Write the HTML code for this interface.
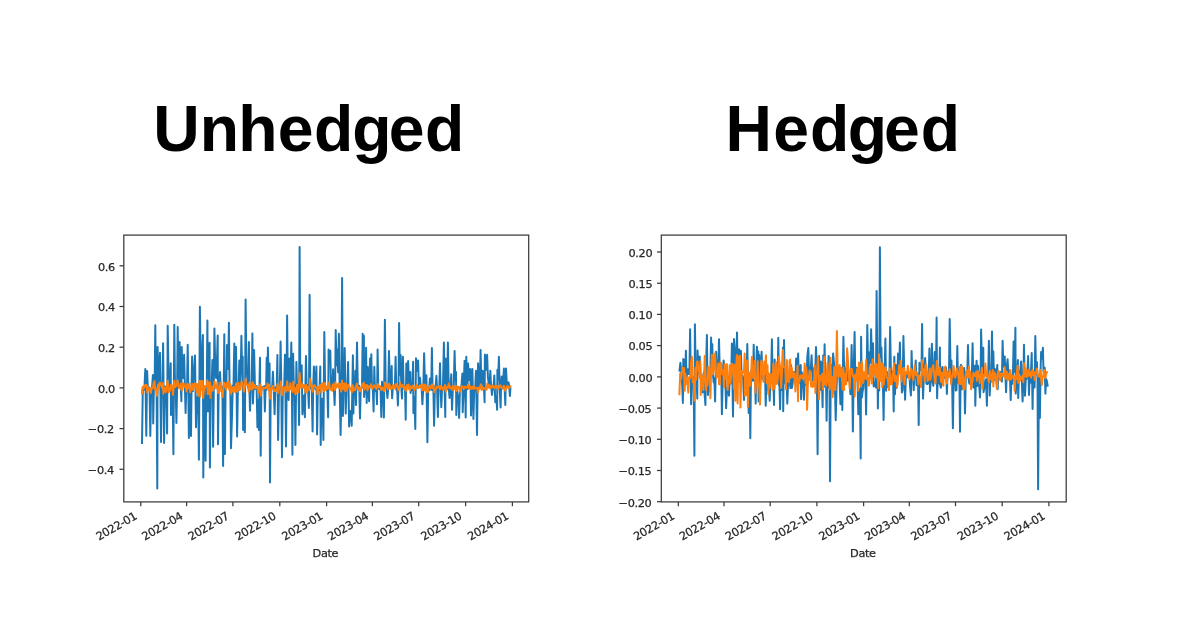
<!DOCTYPE html>
<html lang="en"><head><meta charset="utf-8"><title>Unhedged vs Hedged</title>
<style>
html,body{margin:0;padding:0;background:#fff;}
body{width:1200px;height:630px;overflow:hidden;position:relative;font-family:"Liberation Sans",sans-serif;}
svg{position:absolute;left:0;top:0;display:block;}
.t{font-family:"DejaVu Sans","Liberation Sans",sans-serif;font-size:11.3px;fill:#262626;letter-spacing:-0.35px;stroke:#262626;stroke-width:0.25px;}
</style></head><body>
<svg width="1200" height="630" viewBox="0 0 1200 630">
<defs><filter id="soft" x="-5%" y="-5%" width="110%" height="110%"><feGaussianBlur stdDeviation="0.65"/></filter></defs>
<g id="titles" font-family="Liberation Sans, sans-serif" font-weight="700" font-size="64.3" fill="#000">
<text y="150.6" x="153.16 199.64 238.36 277.76 313.91 352.25 388.76 424.91">Unhedged</text>
<text y="150.6" x="725.45 773.31 810.06 847.8 883.96 920.71">Hedged</text>
</g>
<g id="left" filter="url(#soft)">
<polyline points="142.0,442.9 142.8,388.0 143.6,389.8 144.5,386.5 145.3,369.0 146.3,435.7 147.1,371.0 147.9,389.4 148.7,387.5 149.5,387.5 150.3,436.0 151.1,390.7 152.0,388.1 152.9,375.0 153.2,423.6 153.9,387.8 154.6,389.0 155.3,325.3 156.0,389.6 156.6,387.9 157.3,488.4 157.6,347.1 158.4,385.8 159.2,370.6 160.0,352.8 161.0,441.9 161.7,388.2 162.4,389.1 163.1,343.3 164.1,442.9 164.9,386.6 165.6,392.2 166.4,386.8 167.1,433.6 167.7,325.7 168.5,371.7 169.2,374.3 170.0,387.2 170.7,363.3 171.0,415.0 171.8,389.2 172.6,387.2 173.4,454.3 174.3,324.7 175.0,384.6 175.7,389.1 176.4,422.9 177.1,388.4 177.7,327.1 178.3,378.7 179.0,387.4 179.6,342.1 180.2,386.0 180.8,388.7 181.4,401.2 181.7,347.1 182.5,374.5 183.3,378.1 184.1,354.7 184.9,386.2 185.6,412.9 186.3,386.9 187.0,389.8 187.7,344.7 188.3,386.6 188.9,437.9 189.6,390.8 190.3,395.8 191.0,436.0 191.6,384.3 192.1,356.4 192.9,391.1 193.6,370.6 194.3,368.0 195.0,355.4 196.0,427.2 196.7,397.7 197.4,413.3 198.1,387.2 198.9,459.7 199.9,306.7 200.6,355.6 201.4,379.7 202.1,356.8 202.9,335.0 203.3,477.4 204.0,389.9 204.8,428.2 205.6,460.7 206.2,388.5 206.8,386.4 207.4,320.4 207.9,411.4 208.7,390.6 209.6,342.8 209.9,467.4 210.7,389.7 211.6,387.7 212.4,360.0 213.1,446.7 213.8,389.2 214.4,328.6 215.2,363.2 216.1,378.0 216.9,362.8 217.7,335.4 218.0,444.3 218.7,387.9 219.3,388.1 220.0,372.1 220.8,388.3 221.6,388.8 222.4,386.9 223.1,466.0 223.7,391.0 224.3,334.3 224.9,453.9 225.6,387.1 226.3,386.7 227.0,345.0 227.6,366.4 228.2,369.0 228.9,322.8 229.6,389.1 230.3,385.3 231.0,448.3 232.0,415.0 232.8,385.5 233.5,386.3 234.3,343.6 235.1,387.8 236.0,346.7 236.6,388.0 237.1,436.4 237.9,389.2 238.6,389.7 239.3,360.4 240.0,386.3 240.7,375.4 241.4,335.7 242.1,372.8 242.7,356.4 243.1,430.0 244.0,391.8 244.9,432.2 245.6,299.4 246.4,370.7 247.2,374.3 248.0,387.6 248.9,342.1 249.4,387.9 250.0,410.7 250.8,387.6 251.6,390.0 252.4,333.6 252.9,403.6 253.5,388.7 254.1,350.0 255.0,389.0 255.8,387.6 256.6,386.0 257.4,427.2 258.1,399.9 258.9,430.0 259.4,388.4 260.0,357.8 260.7,455.7 261.4,387.3 262.1,389.2 262.8,386.9 263.5,387.2 264.2,386.1 264.9,411.4 265.5,389.7 266.1,389.8 266.7,357.8 267.3,388.2 267.9,347.6 268.7,382.9 269.6,363.6 270.0,482.6 270.7,388.3 271.4,386.9 272.1,388.5 272.9,371.7 273.7,389.4 274.6,414.3 275.3,387.7 276.0,387.2 276.7,387.3 277.4,355.0 278.1,440.0 279.0,389.1 279.8,388.7 280.6,341.4 281.3,386.5 282.0,457.2 282.8,388.5 283.5,387.2 284.2,386.8 285.0,354.7 286.0,446.4 286.6,389.8 287.1,315.4 287.9,389.1 288.6,400.0 289.3,358.6 290.0,383.9 290.6,382.5 291.3,342.4 291.9,386.8 292.4,454.7 293.1,353.8 293.9,388.9 294.7,385.2 295.4,445.0 296.4,362.1 297.1,388.4 297.8,389.0 298.5,388.7 299.1,425.0 299.6,247.0 300.3,385.9 301.0,384.7 301.7,365.3 302.4,414.3 303.2,403.9 304.0,395.6 304.9,417.2 305.4,386.5 306.0,356.1 306.7,388.7 307.4,385.1 308.1,389.7 308.9,407.9 309.6,294.8 310.3,388.0 311.1,388.0 311.8,390.8 312.6,431.4 313.2,386.8 313.9,366.4 314.7,384.5 315.6,389.4 316.4,366.4 317.1,434.6 317.9,388.3 318.7,390.3 319.5,389.0 320.3,366.4 320.7,445.0 321.4,401.0 322.1,398.8 322.8,412.0 323.4,440.0 324.3,332.1 325.1,386.0 325.8,387.3 326.6,390.6 327.4,391.0 328.1,417.2 328.6,349.6 329.4,362.0 330.3,350.7 331.0,388.8 331.7,387.7 332.4,387.8 333.1,369.3 333.9,388.5 334.6,405.0 335.1,389.0 335.7,330.0 336.5,365.3 337.3,349.7 338.1,372.3 338.9,333.8 339.7,387.9 340.6,435.0 341.4,390.9 342.1,278.0 342.9,416.0 343.5,385.3 344.1,388.3 344.7,348.1 345.7,413.6 346.5,387.3 347.3,388.7 348.1,362.1 349.1,426.4 350.0,411.4 350.9,410.8 351.7,425.7 352.3,390.3 352.9,355.3 353.4,413.6 354.0,386.6 354.7,388.0 355.3,370.7 356.0,405.0 357.0,342.6 357.8,387.7 358.5,385.8 359.2,385.7 360.0,418.6 360.7,389.0 361.4,388.3 362.0,387.7 362.7,333.8 363.3,368.0 363.9,335.7 364.1,396.9 364.8,389.7 365.5,387.9 366.1,347.8 366.7,402.9 367.7,367.1 368.4,387.8 369.1,401.2 370.0,358.6 370.6,383.8 371.3,354.3 372.0,388.3 372.8,388.3 373.6,411.4 374.3,366.7 375.0,390.8 375.6,387.4 376.3,389.4 377.0,404.3 377.6,349.6 378.3,388.8 379.1,387.4 379.8,389.1 380.5,386.6 381.3,416.9 382.0,381.8 382.6,389.6 383.2,386.7 383.9,417.4 384.9,319.7 385.7,387.2 386.6,388.4 387.4,397.9 388.2,389.1 389.0,351.0 389.7,378.3 390.4,387.5 391.0,381.1 391.7,366.1 392.1,398.3 392.8,388.3 393.5,385.8 394.2,386.3 394.9,385.9 395.6,356.8 396.3,389.7 397.1,386.8 397.9,405.4 398.5,386.8 399.1,323.1 399.9,374.8 400.6,355.0 401.3,387.4 402.0,398.6 402.9,356.7 403.6,386.4 404.3,387.3 405.0,386.3 405.7,419.7 406.3,363.6 406.9,377.6 407.5,385.5 408.1,361.1 408.9,382.4 409.6,389.2 410.3,372.1 410.6,392.9 411.4,387.3 412.3,390.0 413.1,361.8 413.4,412.9 414.4,397.3 415.3,429.0 416.0,358.3 416.7,370.9 417.4,369.5 418.1,360.4 418.8,386.3 419.4,382.2 420.0,377.8 420.8,387.3 421.6,387.6 422.4,404.3 423.3,387.8 424.1,353.3 424.9,380.4 425.7,386.5 426.4,375.3 427.4,442.2 428.2,387.8 429.0,390.4 429.9,378.6 430.5,387.3 431.2,389.7 431.9,348.1 432.6,390.0 433.4,389.9 434.1,425.7 434.9,386.6 435.7,385.4 436.4,375.7 437.1,389.8 437.9,416.9 438.6,387.3 439.3,388.0 440.0,363.3 440.6,387.5 441.3,407.2 442.1,388.1 443.0,386.1 443.9,342.4 444.6,387.7 445.3,416.9 445.6,358.6 446.3,387.2 447.1,389.1 447.9,342.6 448.7,388.4 449.6,397.9 450.4,385.3 451.3,374.3 452.0,409.7 452.9,386.8 453.7,387.9 454.6,351.0 455.3,380.3 456.0,372.1 456.3,415.0 457.0,388.8 457.7,396.2 458.4,395.9 459.1,417.9 460.0,387.4 460.8,388.2 461.6,383.9 462.4,373.6 462.7,412.2 463.6,387.9 464.6,360.7 465.1,385.8 465.7,417.4 466.3,356.8 466.9,374.9 467.5,389.2 468.1,363.6 468.9,380.1 469.6,378.4 470.3,369.0 471.0,415.4 471.7,388.6 472.4,369.0 473.4,418.9 474.3,387.4 475.1,390.0 476.0,370.7 477.0,435.0 477.6,389.3 478.1,363.3 479.0,386.3 479.8,387.7 480.6,350.0 481.3,383.8 482.0,380.0 482.7,370.7 483.3,387.5 484.0,388.9 484.6,402.2 484.9,354.6 485.6,364.1 486.4,369.8 487.1,354.7 487.9,376.8 488.7,383.8 489.5,386.8 490.3,370.7 491.1,386.4 492.0,395.0 492.8,388.1 493.5,388.6 494.3,375.4 495.3,402.2 495.9,396.3 496.5,398.5 497.1,409.7 497.4,370.0 498.1,379.5 498.9,356.8 499.7,389.2 500.6,407.4 501.1,385.1 501.7,376.4 502.4,388.5 503.1,383.5 503.9,368.6 504.6,387.4 505.3,405.0 506.0,368.6 506.9,384.8 507.7,385.0 508.6,382.4 509.2,386.8 509.9,396.0 510.4,388.1" fill="none" stroke="#1f77b4" stroke-width="2.00" stroke-linejoin="round" stroke-linecap="square"/>
<polyline points="141.9,393.6 142.7,386.8 143.5,388.7 144.3,386.8 145.1,385.0 145.8,386.5 146.5,385.0 147.2,392.4 147.9,386.9 148.7,390.3 149.4,388.5 150.1,390.1 150.8,393.0 151.5,388.1 152.2,388.4 153.0,387.9 153.7,383.1 154.4,381.3 155.2,389.6 156.1,388.7 157.0,395.7 158.0,385.0 158.7,388.8 159.4,383.0 160.1,382.8 160.8,385.1 161.5,386.1 162.3,388.2 163.0,382.9 163.3,393.8 164.1,387.3 165.0,388.3 165.8,392.2 166.6,388.5 167.3,381.1 168.0,385.5 168.7,392.3 169.4,388.9 170.1,390.6 170.9,384.7 171.6,385.8 172.3,385.5 173.0,394.9 173.7,386.5 174.4,380.7 175.2,387.1 176.0,386.3 176.8,385.1 177.6,380.3 178.4,385.5 179.2,388.0 180.1,387.5 180.9,383.6 181.6,390.3 182.3,390.4 183.0,383.2 183.7,383.8 184.5,386.7 185.2,387.2 185.9,385.6 186.6,391.3 187.3,383.8 188.0,388.6 188.8,387.3 189.5,383.7 190.2,392.2 190.9,389.5 191.6,389.2 192.3,384.0 193.1,390.0 193.8,387.8 194.5,383.6 195.2,383.8 195.9,385.6 196.6,391.8 197.3,384.0 198.1,395.7 198.8,385.0 199.5,380.8 200.2,396.6 201.0,381.3 201.8,389.2 202.6,381.0 203.1,397.9 203.8,391.1 204.5,386.0 205.2,386.8 205.9,386.3 206.7,385.9 207.4,380.3 207.7,394.1 208.5,382.5 209.4,393.9 210.2,382.6 210.5,397.7 211.3,387.1 212.1,386.6 212.9,390.7 213.7,387.0 214.5,381.3 215.3,386.8 216.0,388.3 216.7,388.2 217.4,382.6 218.1,393.1 218.9,389.1 219.6,389.2 220.4,382.8 221.2,391.2 221.9,390.2 222.7,396.9 223.3,388.8 223.9,382.6 224.6,383.1 225.4,385.8 226.2,389.6 227.0,382.9 227.8,387.0 228.6,380.9 229.4,390.0 230.2,384.1 231.0,393.6 231.7,386.8 232.4,391.4 233.2,388.8 233.9,387.0 234.6,388.3 235.3,392.2 236.0,383.6 236.6,389.0 237.2,391.7 237.9,387.7 238.6,383.1 239.3,390.2 240.0,389.8 240.7,387.5 241.5,381.5 242.3,383.3 243.1,385.2 243.9,391.5 244.8,386.4 245.6,379.1 246.4,384.7 247.2,384.7 248.0,385.0 248.8,392.0 249.6,382.4 250.3,389.3 251.1,388.4 251.8,389.6 252.3,382.7 252.9,382.3 253.7,388.2 254.4,384.9 255.2,386.4 255.9,388.1 256.7,386.8 257.5,386.7 258.2,392.7 258.9,389.1 259.6,388.2 260.4,384.3 260.8,395.8 261.5,388.6 262.3,389.3 263.0,387.5 263.8,387.4 264.5,388.1 265.3,388.4 266.0,387.0 266.8,387.8 267.5,383.6 268.3,389.9 269.1,384.9 270.0,398.6 270.8,388.6 271.6,389.1 272.4,385.9 273.2,386.4 274.0,391.0 274.7,389.5 275.4,391.2 276.1,390.9 276.8,390.3 277.5,384.0 278.3,393.1 279.1,387.3 280.0,386.3 280.8,381.5 281.8,395.2 282.6,387.5 283.4,389.1 284.2,388.7 285.0,387.0 285.7,391.9 286.5,387.7 287.3,381.3 287.6,390.3 288.3,387.9 289.0,390.8 289.7,386.3 290.4,383.3 291.2,389.6 291.9,390.2 292.6,392.0 293.3,381.7 294.0,390.7 294.7,387.9 295.4,394.5 296.3,392.1 297.2,384.7 297.7,386.7 298.3,392.2 299.0,386.7 299.7,373.0 300.5,385.4 301.2,387.9 301.9,385.2 302.6,384.1 303.3,387.8 304.0,385.1 304.8,388.2 305.5,392.1 306.2,385.0 306.9,392.2 307.6,386.9 308.3,389.1 309.1,390.3 310.1,378.6 310.9,382.9 311.8,387.3 312.6,391.7 313.3,385.9 314.1,385.4 314.8,385.3 315.5,387.2 316.2,387.9 316.9,387.5 317.6,394.3 318.4,387.1 319.2,389.1 320.0,385.4 320.8,385.0 321.2,392.4 321.9,383.3 322.7,383.7 323.4,388.9 324.1,391.1 324.8,383.0 325.5,387.0 326.2,389.9 327.0,386.4 327.7,388.5 328.4,387.6 329.1,382.4 329.8,388.7 330.5,388.3 331.2,390.3 332.0,390.7 332.7,385.0 333.4,384.3 334.1,387.8 334.8,390.1 335.5,382.2 336.3,387.7 337.0,386.6 337.7,385.0 338.4,383.6 339.1,388.1 339.8,383.9 340.6,386.1 341.3,391.5 342.0,380.5 342.7,387.6 343.4,389.2 344.1,383.6 344.9,383.6 345.2,391.3 346.0,383.6 346.8,390.4 347.6,387.2 348.4,384.7 349.1,386.1 349.9,388.3 350.6,388.3 351.3,390.6 352.0,392.2 352.7,385.2 353.4,389.9 354.2,390.3 354.9,390.3 355.6,387.1 356.3,386.0 357.0,383.6 357.7,389.3 358.5,387.6 359.2,387.6 359.9,391.3 360.7,390.0 361.4,386.9 362.2,384.1 363.0,386.8 363.8,382.6 364.6,389.5 365.4,385.2 366.2,387.1 367.0,385.0 367.4,390.3 368.1,388.6 368.8,386.3 369.5,386.8 370.2,386.7 370.9,384.3 371.7,387.8 372.5,388.7 373.3,386.6 374.1,385.3 374.9,385.9 375.6,388.0 376.4,389.0 377.1,386.5 377.8,384.0 378.5,387.1 379.2,387.4 379.9,386.4 380.7,387.8 381.4,390.3 382.1,387.5 382.8,388.3 383.5,389.0 384.2,391.3 385.0,382.4 385.7,387.1 386.4,385.3 387.1,386.5 387.8,389.3 388.5,384.4 389.2,383.8 390.0,386.3 390.7,389.2 391.4,388.8 392.1,387.4 392.8,385.2 393.5,388.8 394.3,387.7 395.0,385.4 395.7,384.7 396.4,384.0 397.1,386.4 397.8,388.9 398.6,390.1 399.3,386.5 400.0,382.6 400.7,385.5 401.4,387.3 402.1,385.8 402.9,385.0 403.6,387.1 404.3,389.6 405.0,386.6 405.7,390.0 406.4,390.8 407.1,384.9 407.9,387.3 408.6,384.5 409.3,389.3 410.0,390.0 410.7,386.4 411.4,387.9 412.2,387.9 412.9,385.4 413.6,386.9 414.3,390.3 415.2,387.6 416.0,387.4 416.9,384.4 417.7,388.0 418.5,388.1 419.2,386.9 420.0,385.2 420.8,387.0 421.5,386.7 422.2,390.2 422.9,384.6 423.6,388.2 424.3,390.3 425.0,384.4 425.3,384.7 425.9,386.0 426.5,391.7 427.2,388.5 427.9,392.0 428.6,387.9 429.3,386.7 430.1,385.8 430.8,388.2 431.5,386.9 432.2,384.5 432.9,388.3 433.6,386.4 434.4,392.0 435.1,389.7 435.8,389.4 436.5,386.6 437.2,387.7 437.9,387.1 438.7,387.5 439.4,386.3 440.1,389.2 440.8,385.9 441.5,386.9 442.2,387.4 442.9,390.0 443.7,387.2 444.4,388.0 445.1,385.0 445.8,391.7 446.5,387.3 447.2,387.4 448.0,387.8 448.7,383.6 449.4,387.6 450.1,386.3 450.8,388.5 451.5,388.5 452.3,389.7 453.0,385.9 453.7,387.4 454.4,388.3 455.1,389.2 455.8,385.7 456.6,391.0 457.3,386.4 458.0,387.2 458.7,386.8 459.4,389.5 460.1,391.7 460.9,388.2 461.6,385.9 462.3,387.0 463.0,387.6 463.7,389.1 464.4,386.7 465.1,387.6 465.9,386.9 466.6,387.7 467.3,387.0 468.0,384.7 468.7,388.5 469.4,386.1 470.2,386.4 470.9,389.1 471.6,388.5 472.3,386.9 473.0,388.6 473.7,385.7 474.5,388.8 475.2,387.5 475.9,388.2 476.6,387.7 477.3,387.9 478.0,392.4 478.8,387.8 479.5,388.7 480.2,386.5 480.9,384.3 481.6,389.9 482.3,387.0 483.0,389.2 483.8,388.0 484.5,388.7 485.2,388.4 485.9,387.5 486.6,389.6 487.3,383.5 488.1,387.6 488.8,385.0 489.5,387.9 490.2,385.9 490.9,387.9 491.6,386.4 492.4,385.5 493.1,387.5 493.8,386.4 494.5,388.2 495.2,386.3 495.9,385.6 496.7,387.3 497.4,386.3 498.1,388.9 498.8,387.1 499.5,386.3 500.2,385.2 500.9,386.8 501.7,387.8 502.4,387.8 503.1,387.6 503.8,385.7 504.5,388.6 505.2,390.6 506.0,388.0 506.7,387.4 507.4,385.7 508.1,387.9 508.8,388.4 509.5,386.8 510.4,386.4" fill="none" stroke="#ff7f0e" stroke-width="2.00" stroke-linejoin="round" stroke-linecap="square"/>
<rect x="123.8" y="235.1" width="404.9" height="266.8" fill="none" stroke="#3a3a3a" stroke-width="1.25"/>
<line x1="119.5" y1="265.8" x2="123.8" y2="265.8" stroke="#3a3a3a" stroke-width="1.25"/>
<text x="114.8" y="270.6" text-anchor="end" class="t">0.6</text>
<line x1="119.5" y1="306.5" x2="123.8" y2="306.5" stroke="#3a3a3a" stroke-width="1.25"/>
<text x="114.8" y="311.3" text-anchor="end" class="t">0.4</text>
<line x1="119.5" y1="347.2" x2="123.8" y2="347.2" stroke="#3a3a3a" stroke-width="1.25"/>
<text x="114.8" y="352.0" text-anchor="end" class="t">0.2</text>
<line x1="119.5" y1="387.9" x2="123.8" y2="387.9" stroke="#3a3a3a" stroke-width="1.25"/>
<text x="114.8" y="392.7" text-anchor="end" class="t">0.0</text>
<line x1="119.5" y1="428.6" x2="123.8" y2="428.6" stroke="#3a3a3a" stroke-width="1.25"/>
<text x="113.9" y="433.4" text-anchor="end" class="t">−0.2</text>
<line x1="119.5" y1="469.3" x2="123.8" y2="469.3" stroke="#3a3a3a" stroke-width="1.25"/>
<text x="113.9" y="474.1" text-anchor="end" class="t">−0.4</text>
<line x1="140.8" y1="501.9" x2="140.8" y2="506.2" stroke="#3a3a3a" stroke-width="1.25"/>
<text transform="translate(137.7,518.4) rotate(-30)" text-anchor="end" class="t">2022-01</text>
<line x1="186.6" y1="501.9" x2="186.6" y2="506.2" stroke="#3a3a3a" stroke-width="1.25"/>
<text transform="translate(183.5,518.4) rotate(-30)" text-anchor="end" class="t">2022-04</text>
<line x1="232.9" y1="501.9" x2="232.9" y2="506.2" stroke="#3a3a3a" stroke-width="1.25"/>
<text transform="translate(229.8,518.4) rotate(-30)" text-anchor="end" class="t">2022-07</text>
<line x1="279.8" y1="501.9" x2="279.8" y2="506.2" stroke="#3a3a3a" stroke-width="1.25"/>
<text transform="translate(276.7,518.4) rotate(-30)" text-anchor="end" class="t">2022-10</text>
<line x1="326.6" y1="501.9" x2="326.6" y2="506.2" stroke="#3a3a3a" stroke-width="1.25"/>
<text transform="translate(323.5,518.4) rotate(-30)" text-anchor="end" class="t">2023-01</text>
<line x1="372.4" y1="501.9" x2="372.4" y2="506.2" stroke="#3a3a3a" stroke-width="1.25"/>
<text transform="translate(369.3,518.4) rotate(-30)" text-anchor="end" class="t">2023-04</text>
<line x1="418.7" y1="501.9" x2="418.7" y2="506.2" stroke="#3a3a3a" stroke-width="1.25"/>
<text transform="translate(415.6,518.4) rotate(-30)" text-anchor="end" class="t">2023-07</text>
<line x1="465.6" y1="501.9" x2="465.6" y2="506.2" stroke="#3a3a3a" stroke-width="1.25"/>
<text transform="translate(462.5,518.4) rotate(-30)" text-anchor="end" class="t">2023-10</text>
<line x1="512.4" y1="501.9" x2="512.4" y2="506.2" stroke="#3a3a3a" stroke-width="1.25"/>
<text transform="translate(509.3,518.4) rotate(-30)" text-anchor="end" class="t">2024-01</text>
<text x="325.4" y="556.8" text-anchor="middle" class="t">Date</text>
</g>
<g id="right" filter="url(#soft)">
<polyline points="679.5,370.7 680.4,362.8 681.2,370.8 682.0,380.4 682.9,402.9 683.3,359.0 684.1,360.1 685.0,384.9 685.9,350.7 686.5,378.3 687.2,371.7 687.9,369.3 688.6,374.0 689.4,373.6 690.1,329.3 691.1,404.3 692.0,378.5 692.8,383.6 693.6,377.3 694.4,455.7 694.9,324.3 695.7,372.4 696.5,378.0 697.3,398.6 697.6,350.4 698.3,374.0 699.0,363.4 699.7,356.4 700.4,372.7 701.1,378.3 701.9,382.2 702.6,392.5 703.3,375.1 704.0,372.0 704.7,395.4 705.4,405.0 706.1,365.9 706.9,335.0 707.4,374.5 708.0,395.0 708.8,381.1 709.6,390.9 710.4,370.8 711.1,337.6 711.7,361.6 712.3,344.3 713.0,375.1 713.7,382.5 714.4,378.6 715.1,401.4 716.1,351.8 716.9,370.3 717.6,375.5 718.3,369.7 719.0,339.3 719.7,368.6 720.4,373.2 721.1,363.6 721.9,414.3 722.7,380.0 723.6,360.4 724.4,367.1 725.3,378.1 726.1,408.3 726.9,390.7 727.6,387.7 728.3,388.7 729.0,395.7 729.7,378.2 730.4,371.0 731.1,383.2 731.9,343.6 732.4,378.8 733.0,416.4 734.0,339.0 734.8,349.6 735.5,354.9 736.2,377.0 737.0,332.4 737.7,373.2 738.3,360.5 739.0,349.3 739.6,361.8 740.2,382.8 740.9,350.7 741.6,378.2 742.4,375.2 743.2,380.1 744.0,400.0 744.8,375.7 745.6,371.2 746.5,385.3 747.3,344.0 748.0,382.5 748.7,412.9 749.5,373.7 750.3,438.3 751.0,371.2 751.7,375.2 752.3,375.1 753.0,380.8 753.7,344.7 754.4,380.3 755.0,378.7 755.7,403.6 756.3,367.9 756.9,346.7 757.6,374.7 758.3,351.4 758.6,401.4 759.3,355.1 760.1,385.5 760.8,376.1 761.6,351.8 762.3,372.6 763.0,379.4 763.6,367.2 764.3,370.4 765.0,370.6 765.7,405.7 766.5,378.7 767.3,390.2 768.1,381.8 768.9,384.2 769.7,400.7 770.4,378.4 771.1,378.7 771.9,339.3 772.6,373.7 773.3,374.9 774.0,405.0 774.7,359.6 775.4,368.5 776.1,367.9 776.9,382.7 777.6,381.5 778.3,337.8 778.9,384.4 779.5,387.1 780.1,409.3 780.8,374.8 781.5,383.8 782.2,390.0 782.9,347.8 783.2,411.2 784.0,340.0 784.8,376.8 785.6,383.6 786.5,375.8 787.3,403.6 788.1,383.0 788.9,379.6 789.6,378.5 790.4,387.9 791.1,365.3 791.9,388.1 792.6,383.9 793.3,375.0 794.0,372.1 794.7,376.9 795.4,380.0 796.1,358.6 796.8,378.8 797.5,371.7 798.1,353.6 799.0,382.9 799.9,370.7 800.7,365.0 801.1,399.3 801.9,372.4 802.6,385.6 803.3,382.3 804.0,399.7 804.8,375.4 805.6,372.1 806.5,385.1 807.3,357.1 808.3,348.1 809.1,375.6 809.9,372.0 810.8,368.8 811.6,355.3 812.3,373.9 813.0,380.6 813.8,368.2 814.5,378.6 815.3,370.8 816.0,347.1 816.8,370.0 817.6,454.3 818.3,366.3 819.0,356.1 819.6,367.2 820.2,390.1 820.9,361.4 821.7,368.2 822.6,407.2 823.2,355.6 823.9,387.1 824.6,344.3 825.2,374.0 825.9,371.6 826.6,420.7 827.2,375.9 827.9,387.6 828.6,356.1 829.3,359.1 830.0,481.2 830.8,364.8 831.6,378.7 832.4,374.3 833.1,353.6 834.0,362.9 834.9,384.3 835.7,420.3 836.5,389.9 837.3,365.7 838.1,370.6 838.9,367.1 839.6,382.1 840.4,404.3 841.0,367.9 841.7,381.3 842.3,410.0 842.9,368.0 843.4,336.7 844.1,368.7 844.8,368.3 845.5,375.6 846.2,373.5 846.9,360.7 847.6,380.7 848.3,378.2 849.0,374.6 849.7,381.8 850.4,394.3 851.0,377.6 851.6,345.0 852.2,379.0 852.9,431.4 853.7,368.5 854.6,332.1 855.3,378.8 856.1,367.6 856.8,369.0 857.5,378.4 858.3,414.3 859.1,389.3 859.9,389.5 860.7,458.6 861.1,336.7 861.9,397.5 862.6,391.2 863.3,388.5 864.0,375.0 864.7,378.9 865.4,373.4 866.1,414.6 866.7,373.9 867.3,325.0 868.1,366.7 868.8,373.9 869.6,352.2 870.4,362.8 871.1,329.3 871.8,358.7 872.4,366.5 873.0,343.3 873.7,386.4 874.4,385.3 875.1,382.2 875.9,387.4 876.6,291.1 877.2,353.6 877.9,408.6 878.5,366.8 879.2,390.6 879.9,247.3 880.6,357.1 881.4,347.6 882.1,374.1 882.9,381.4 883.6,420.0 884.2,376.9 884.8,364.9 885.4,338.6 886.1,390.7 886.9,371.7 887.7,385.8 888.5,387.5 889.3,383.6 890.1,327.1 890.9,371.6 891.6,371.2 892.3,378.9 893.0,372.1 893.7,411.4 894.3,356.7 895.0,394.2 895.8,365.0 896.5,388.0 897.3,384.2 898.0,353.6 898.6,359.7 899.2,368.9 899.9,342.4 900.5,372.5 901.2,369.3 901.9,392.4 902.6,390.0 903.4,336.0 904.3,372.5 905.1,399.7 905.9,377.1 906.6,374.3 907.3,377.3 908.0,372.6 908.7,372.8 909.4,374.3 910.1,387.0 910.9,395.4 911.6,351.1 912.3,377.3 913.0,376.0 913.7,390.3 914.4,372.4 915.0,376.0 915.7,360.4 916.5,385.2 917.2,373.3 918.0,377.0 918.7,425.0 919.4,362.8 920.1,366.5 920.8,370.2 921.5,369.8 922.1,324.0 923.0,398.6 923.7,380.9 924.4,370.2 925.1,358.1 925.8,371.0 926.4,383.6 927.2,384.1 927.9,383.7 928.7,374.6 929.4,348.6 930.0,391.2 930.6,383.3 931.2,374.6 931.9,343.8 932.6,380.7 933.3,385.7 934.0,371.0 934.7,352.1 935.3,362.7 936.0,375.0 936.6,317.6 937.1,398.3 937.8,375.7 938.5,376.8 939.2,383.2 939.9,347.4 940.1,385.0 940.9,387.7 941.6,370.6 942.3,367.1 943.0,375.8 943.8,376.6 944.6,378.0 945.3,370.1 946.1,367.7 946.9,394.0 947.6,372.1 948.3,371.3 949.0,371.3 949.7,319.0 950.6,372.1 951.4,360.4 952.1,381.0 952.9,428.3 953.6,379.6 954.3,372.8 955.1,372.7 955.8,390.6 956.5,390.0 957.3,346.1 958.0,382.6 958.6,374.1 959.3,368.8 960.0,431.7 960.6,373.7 961.1,364.7 961.9,389.3 962.7,380.3 963.5,374.7 964.2,367.9 965.0,413.6 965.8,378.0 966.5,371.3 967.2,376.9 968.0,345.0 968.8,381.4 969.5,383.8 970.3,377.8 971.0,374.6 971.8,378.3 972.6,343.3 973.4,387.6 974.2,376.1 975.0,365.7 975.3,405.7 976.0,374.1 976.6,360.8 977.3,386.0 978.0,365.7 978.7,376.8 979.3,387.3 980.0,397.4 980.6,380.3 981.1,329.6 981.9,362.3 982.6,376.1 983.3,347.8 983.6,392.2 984.4,387.5 985.2,384.2 986.0,379.3 986.9,405.7 987.5,374.0 988.2,375.7 988.9,340.7 989.7,395.4 990.5,375.6 991.2,381.4 992.0,331.4 992.6,374.6 993.3,351.4 994.1,380.3 994.9,368.9 995.7,372.8 996.5,378.9 997.3,365.0 997.6,389.3 998.3,374.9 999.0,372.7 999.7,378.7 1000.4,371.9 1001.1,373.4 1001.9,381.6 1002.6,340.7 1003.3,365.9 1004.0,366.8 1004.7,356.4 1005.4,374.9 1006.1,392.2 1006.9,365.7 1007.6,359.3 1008.4,376.4 1009.1,370.4 1009.9,374.3 1010.7,400.0 1011.4,376.3 1012.1,383.8 1012.9,376.6 1013.6,341.4 1014.2,371.8 1014.8,365.9 1015.4,327.8 1015.7,393.6 1016.4,385.4 1017.1,376.6 1017.9,360.0 1018.2,397.9 1018.9,373.6 1019.6,375.1 1020.4,369.3 1021.1,361.4 1021.9,383.8 1022.6,401.4 1023.3,381.2 1024.0,344.7 1025.0,395.7 1025.8,379.2 1026.6,378.7 1027.4,372.7 1028.1,356.1 1029.0,395.0 1029.7,374.1 1030.4,382.7 1031.0,371.2 1031.7,353.1 1032.6,409.0 1033.2,371.3 1033.9,387.6 1034.6,387.6 1035.3,336.1 1036.1,374.6 1036.9,362.1 1037.5,378.8 1038.1,489.2 1039.0,374.9 1039.9,417.9 1040.5,372.5 1041.1,352.1 1042.0,358.8 1042.9,347.8 1043.5,371.2 1044.1,372.5 1044.7,367.8 1045.4,393.6 1046.1,378.8 1046.9,381.1 1047.6,385.7" fill="none" stroke="#1f77b4" stroke-width="2.00" stroke-linejoin="round" stroke-linecap="square"/>
<polyline points="679.4,394.3 680.2,373.4 681.0,379.3 681.8,373.6 682.6,367.8 683.3,372.6 684.0,368.0 684.7,390.7 685.4,373.7 686.1,384.1 686.9,378.7 687.6,383.5 688.3,392.6 689.0,377.3 689.7,378.5 690.4,376.8 691.1,362.0 691.9,356.7 692.7,382.2 693.6,379.4 694.4,400.7 695.4,367.8 696.1,379.6 696.9,361.8 697.6,361.4 698.3,368.2 699.0,371.4 699.7,377.9 700.4,361.4 700.7,395.0 701.6,375.0 702.4,378.0 703.3,390.0 704.0,378.8 704.7,356.1 705.4,369.6 706.1,390.3 706.9,379.8 707.6,385.0 708.3,367.1 709.0,370.3 709.7,369.5 710.4,398.3 711.1,372.6 711.9,354.7 712.6,374.5 713.4,372.1 714.2,368.3 715.0,353.6 715.8,369.4 716.6,377.2 717.5,375.7 718.3,363.6 719.0,384.3 719.7,384.5 720.4,362.3 721.1,364.3 721.9,373.1 722.6,374.6 723.3,369.9 724.0,387.2 724.7,364.3 725.4,378.9 726.1,374.9 726.9,364.0 727.6,390.0 728.3,381.7 729.0,380.9 729.7,365.0 730.4,383.4 731.1,376.4 731.9,363.8 732.6,364.3 733.3,369.7 734.0,388.8 734.7,365.0 735.4,400.7 736.1,368.0 736.9,355.0 737.6,403.6 738.4,356.6 739.2,380.8 740.0,355.7 740.4,407.4 741.1,386.6 741.9,371.1 742.6,373.3 743.3,372.1 744.0,370.8 744.7,353.6 745.0,395.7 745.9,360.2 746.7,395.2 747.6,360.7 747.9,406.9 748.7,374.4 749.5,372.9 750.3,385.6 751.1,374.2 751.9,356.7 752.6,373.5 753.3,378.0 754.0,377.7 754.7,360.7 755.4,392.9 756.2,380.6 757.0,380.8 757.7,361.2 758.5,386.9 759.2,384.0 760.0,404.6 760.6,379.7 761.2,360.5 761.9,362.1 762.7,370.3 763.5,382.0 764.3,361.6 765.1,373.9 765.9,355.3 766.7,383.2 767.5,365.2 768.3,394.3 769.0,373.6 769.7,387.6 770.4,379.5 771.1,374.1 771.9,378.0 772.6,390.0 773.3,363.6 773.9,380.2 774.4,388.6 775.1,376.3 775.9,362.1 776.6,384.0 777.3,382.8 778.0,375.5 778.7,357.1 779.5,362.8 780.3,368.6 781.1,387.9 782.0,372.1 782.9,350.0 783.7,367.0 784.5,367.1 785.3,367.8 786.1,389.4 786.9,360.0 787.6,381.0 788.3,378.4 789.0,382.2 789.6,360.8 790.1,359.6 790.9,377.7 791.7,367.8 792.4,372.4 793.2,377.5 793.9,373.5 794.7,373.2 795.4,391.4 796.1,380.6 796.9,377.7 797.6,365.7 798.0,401.2 798.7,379.0 799.5,381.2 800.2,375.5 801.0,375.4 801.7,377.5 802.5,378.4 803.2,374.2 804.0,376.7 804.7,363.6 805.5,382.9 806.3,367.6 807.1,409.7 808.0,379.1 808.8,380.4 809.6,370.6 810.4,372.1 811.1,386.4 811.9,381.7 812.6,386.9 813.3,386.1 814.0,384.2 814.7,365.0 815.4,392.9 816.3,375.0 817.1,372.0 818.0,357.1 819.0,399.3 819.8,375.7 820.6,380.5 821.3,379.4 822.1,374.1 822.9,389.1 823.7,376.2 824.4,356.7 824.7,384.3 825.4,377.0 826.1,385.7 826.9,371.9 827.6,362.8 828.3,382.0 829.0,384.0 829.7,389.3 830.4,357.8 831.1,385.5 831.9,377.0 832.6,397.2 833.4,389.7 834.3,367.1 834.9,373.3 835.4,390.0 836.1,373.3 836.9,331.1 837.6,369.2 838.3,376.7 839.0,368.6 839.7,365.1 840.4,376.6 841.1,368.4 841.9,377.8 842.6,389.6 843.3,367.8 844.0,390.1 844.7,373.9 845.4,380.4 846.1,384.3 847.1,348.3 848.0,361.6 848.9,375.0 849.7,388.6 850.4,370.8 851.1,369.1 851.9,369.0 852.6,374.7 853.3,376.9 854.0,375.6 854.7,396.4 855.5,374.4 856.3,380.5 857.1,369.3 857.9,367.8 858.3,390.7 859.0,362.6 859.7,364.1 860.4,380.0 861.1,386.5 861.9,361.7 862.6,374.2 863.3,382.9 864.0,372.3 864.7,378.8 865.4,376.0 866.1,360.0 866.9,379.3 867.6,377.9 868.3,384.1 869.0,385.5 869.7,368.0 870.4,365.9 871.1,376.6 871.9,383.6 872.6,359.3 873.3,376.2 874.0,372.8 874.7,368.0 875.4,363.5 876.1,377.6 876.9,364.6 877.6,371.2 878.3,387.9 879.0,354.3 879.7,375.9 880.4,380.8 881.1,363.6 881.9,363.6 882.2,387.2 883.0,363.7 883.8,384.4 884.6,374.7 885.4,367.1 886.1,371.4 886.9,377.9 887.6,378.0 888.3,385.1 889.0,390.0 889.7,368.6 890.4,382.9 891.1,384.4 891.9,384.1 892.6,374.3 893.3,371.2 894.0,363.6 894.7,381.0 895.4,376.0 896.1,376.0 896.9,387.2 897.6,383.4 898.4,373.9 899.2,365.2 899.9,373.3 900.7,360.7 901.5,381.7 902.4,368.7 903.2,374.4 904.0,367.8 904.3,384.3 905.0,378.9 905.7,372.1 906.4,373.4 907.1,373.1 907.9,365.7 908.7,376.6 909.5,379.2 910.3,372.8 911.1,368.7 911.9,370.7 912.6,377.1 913.3,380.4 914.0,372.5 914.7,365.0 915.4,374.4 916.1,375.2 916.9,372.2 917.6,376.6 918.3,384.3 919.0,375.6 919.7,378.0 920.4,380.4 921.1,387.2 921.9,360.0 922.6,374.4 923.3,369.0 924.0,372.4 924.7,381.0 925.4,366.2 926.1,364.3 926.9,372.0 927.6,381.0 928.3,379.6 929.0,375.4 929.7,368.6 930.4,379.7 931.1,376.2 931.9,369.1 932.6,367.0 933.3,365.0 934.0,372.2 934.7,379.8 935.4,383.6 936.1,372.6 936.9,360.7 937.6,369.5 938.3,375.2 939.0,370.3 939.7,367.8 940.4,374.3 941.1,381.9 941.9,372.7 942.6,383.3 943.3,385.7 944.0,367.5 944.7,375.0 945.4,366.4 946.1,381.1 946.9,383.4 947.6,372.3 948.3,376.9 949.0,376.9 949.7,369.3 950.4,373.8 951.1,384.3 952.0,376.0 952.9,375.5 953.7,366.1 954.5,377.2 955.3,377.5 956.1,373.7 956.9,368.6 957.6,374.0 958.3,373.1 959.0,383.8 959.7,366.7 960.4,377.7 961.1,384.2 961.9,366.1 962.2,367.1 962.7,370.9 963.3,388.6 964.0,378.6 964.7,389.3 965.4,376.8 966.1,373.0 966.9,370.4 967.6,377.6 968.3,373.8 969.0,366.4 969.7,378.0 970.4,372.3 971.1,389.3 971.9,382.3 972.6,381.4 973.3,372.8 974.0,376.1 974.7,374.5 975.4,375.7 976.1,372.1 976.9,380.8 977.6,370.7 978.3,373.7 979.0,375.2 979.7,383.2 980.4,374.6 981.1,377.3 981.9,367.8 982.6,388.6 983.3,375.0 984.0,375.2 984.7,376.5 985.4,363.6 986.1,376.0 986.9,371.9 987.6,378.6 988.3,378.8 989.0,382.4 989.7,370.7 990.4,375.2 991.1,378.1 991.9,380.8 992.6,370.0 993.3,386.4 994.0,372.3 994.7,374.7 995.4,373.5 996.1,381.8 996.9,388.6 997.6,377.6 998.3,370.7 999.0,374.0 999.7,376.1 1000.4,380.6 1001.1,373.2 1001.9,375.9 1002.6,373.8 1003.3,376.4 1004.0,374.0 1004.7,367.1 1005.4,378.7 1006.1,371.4 1006.9,372.2 1007.6,380.4 1008.3,378.7 1009.0,373.8 1009.7,379.0 1010.4,370.0 1011.1,379.6 1011.9,375.5 1012.6,377.8 1013.3,376.2 1014.0,376.7 1014.7,390.7 1015.4,376.5 1016.1,379.2 1016.9,372.7 1017.6,365.7 1018.3,382.8 1019.0,374.0 1019.7,380.7 1020.4,377.3 1021.1,379.3 1021.9,378.3 1022.6,375.7 1023.3,382.2 1024.0,363.3 1024.7,376.0 1025.4,368.0 1026.1,376.9 1026.9,370.7 1027.6,376.8 1028.3,372.1 1029.0,369.5 1029.7,375.5 1030.4,372.3 1031.1,377.7 1031.9,371.8 1032.6,369.7 1033.3,375.0 1034.0,372.1 1034.7,379.9 1035.4,374.3 1036.1,372.0 1036.9,368.6 1037.6,373.5 1038.3,376.6 1039.0,376.6 1039.7,375.8 1040.4,370.0 1041.1,379.0 1041.9,385.0 1042.6,377.1 1043.3,375.3 1044.0,370.0 1044.7,376.8 1045.4,378.3 1046.1,373.6 1047.0,372.2" fill="none" stroke="#ff7f0e" stroke-width="2.00" stroke-linejoin="round" stroke-linecap="square"/>
<rect x="661.3" y="235.1" width="404.9" height="266.8" fill="none" stroke="#3a3a3a" stroke-width="1.25"/>
<line x1="657.0" y1="252.0" x2="661.3" y2="252.0" stroke="#3a3a3a" stroke-width="1.25"/>
<text x="652.3" y="256.8" text-anchor="end" class="t">0.20</text>
<line x1="657.0" y1="283.2" x2="661.3" y2="283.2" stroke="#3a3a3a" stroke-width="1.25"/>
<text x="652.3" y="288.0" text-anchor="end" class="t">0.15</text>
<line x1="657.0" y1="314.4" x2="661.3" y2="314.4" stroke="#3a3a3a" stroke-width="1.25"/>
<text x="652.3" y="319.2" text-anchor="end" class="t">0.10</text>
<line x1="657.0" y1="345.6" x2="661.3" y2="345.6" stroke="#3a3a3a" stroke-width="1.25"/>
<text x="652.3" y="350.4" text-anchor="end" class="t">0.05</text>
<line x1="657.0" y1="376.9" x2="661.3" y2="376.9" stroke="#3a3a3a" stroke-width="1.25"/>
<text x="652.3" y="381.7" text-anchor="end" class="t">0.00</text>
<line x1="657.0" y1="408.1" x2="661.3" y2="408.1" stroke="#3a3a3a" stroke-width="1.25"/>
<text x="651.4" y="412.9" text-anchor="end" class="t">−0.05</text>
<line x1="657.0" y1="439.3" x2="661.3" y2="439.3" stroke="#3a3a3a" stroke-width="1.25"/>
<text x="651.4" y="444.1" text-anchor="end" class="t">−0.10</text>
<line x1="657.0" y1="470.5" x2="661.3" y2="470.5" stroke="#3a3a3a" stroke-width="1.25"/>
<text x="651.4" y="475.3" text-anchor="end" class="t">−0.15</text>
<line x1="657.0" y1="501.7" x2="661.3" y2="501.7" stroke="#3a3a3a" stroke-width="1.25"/>
<text x="651.4" y="506.5" text-anchor="end" class="t">−0.20</text>
<line x1="678.3" y1="501.9" x2="678.3" y2="506.2" stroke="#3a3a3a" stroke-width="1.25"/>
<text transform="translate(675.2,518.4) rotate(-30)" text-anchor="end" class="t">2022-01</text>
<line x1="724.0" y1="501.9" x2="724.0" y2="506.2" stroke="#3a3a3a" stroke-width="1.25"/>
<text transform="translate(720.9,518.4) rotate(-30)" text-anchor="end" class="t">2022-04</text>
<line x1="770.2" y1="501.9" x2="770.2" y2="506.2" stroke="#3a3a3a" stroke-width="1.25"/>
<text transform="translate(767.1,518.4) rotate(-30)" text-anchor="end" class="t">2022-07</text>
<line x1="816.9" y1="501.9" x2="816.9" y2="506.2" stroke="#3a3a3a" stroke-width="1.25"/>
<text transform="translate(813.8,518.4) rotate(-30)" text-anchor="end" class="t">2022-10</text>
<line x1="863.6" y1="501.9" x2="863.6" y2="506.2" stroke="#3a3a3a" stroke-width="1.25"/>
<text transform="translate(860.5,518.4) rotate(-30)" text-anchor="end" class="t">2023-01</text>
<line x1="909.3" y1="501.9" x2="909.3" y2="506.2" stroke="#3a3a3a" stroke-width="1.25"/>
<text transform="translate(906.2,518.4) rotate(-30)" text-anchor="end" class="t">2023-04</text>
<line x1="955.5" y1="501.9" x2="955.5" y2="506.2" stroke="#3a3a3a" stroke-width="1.25"/>
<text transform="translate(952.4,518.4) rotate(-30)" text-anchor="end" class="t">2023-07</text>
<line x1="1002.2" y1="501.9" x2="1002.2" y2="506.2" stroke="#3a3a3a" stroke-width="1.25"/>
<text transform="translate(999.1,518.4) rotate(-30)" text-anchor="end" class="t">2023-10</text>
<line x1="1048.9" y1="501.9" x2="1048.9" y2="506.2" stroke="#3a3a3a" stroke-width="1.25"/>
<text transform="translate(1045.8,518.4) rotate(-30)" text-anchor="end" class="t">2024-01</text>
<text x="862.9" y="556.8" text-anchor="middle" class="t">Date</text>
</g>
</svg>
</body></html>
